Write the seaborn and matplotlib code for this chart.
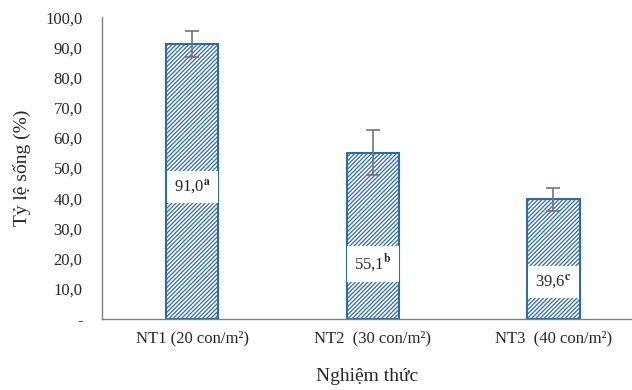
import matplotlib
matplotlib.use("Agg")
import matplotlib.pyplot as plt
import numpy as np
import pandas as pd
import seaborn as sb

treatments = ["NT1 (20 con/m²)", "NT2  (30 con/m²)", "NT3  (40 con/m²)"]
survival = [91.0, 55.1, 39.6]
errors = [4.3, 7.5, 3.9]
letters = ["a", "b", "c"]
yticks = [0, 10, 20, 30, 40, 50, 60, 70, 80, 90, 100]

sb.set_style("white")
plt.rcParams['font.family'] = ['Liberation Serif', 'DejaVu Serif']
plt.rcParams['mathtext.fontset'] = 'stix'
plt.rcParams['hatch.color'] = '#2e6aa8'
plt.rcParams['hatch.linewidth'] = 0.9

df = pd.DataFrame({'treatment': treatments, 'survival': survival})

fig = plt.figure(figsize=(6.32, 3.90), dpi=100)
ax = fig.add_axes([0.1614, 0.182, 0.840, 0.774])

sb.barplot(data=df, x='treatment', y='survival', ax=ax, width=0.29,
           color='white', edgecolor='#2e6aa8', linewidth=1.5, hatch='////////')
ax.errorbar(np.arange(len(survival)), survival, yerr=errors, fmt='none',
            ecolor='#7a6e7a', elinewidth=1.2, capsize=5, capthick=1.2)

# value labels in white boxes
label_frac = [0.48, 0.33, 0.31]
for i, (v, l) in enumerate(zip(survival, letters)):
    txt = ('%.1f' % v).replace('.', ',')
    ax.text(i, v * label_frac[i], txt + r'$^{\mathbf{' + l + '}}$', ha='center', va='center',
            fontsize=12, bbox=dict(facecolor='white', edgecolor='none', pad=5))

ax.set_ylim(0, 100)
ax.set_xlim(-0.5, 2.44)
ax.set_yticks(yticks)
ax.set_yticklabels(['-'] + [('%.1f' % t).replace('.', ',') for t in yticks[1:]], fontsize=12)
ax.tick_params(axis='x', labelsize=12, length=0, pad=8)
ax.tick_params(axis='y', length=0, pad=14)
ax.set_xlabel('Nghiệm thức', fontsize=14, labelpad=16)
ax.set_ylabel('Tỷ lệ sống (%)', fontsize=14, labelpad=10)
for s in ['top', 'right']:
    ax.spines[s].set_visible(False)
for s in ['left', 'bottom']:
    ax.spines[s].set_color('#808080')
    ax.spines[s].set_linewidth(1.0)

fig.savefig('out.png', dpi=100)
